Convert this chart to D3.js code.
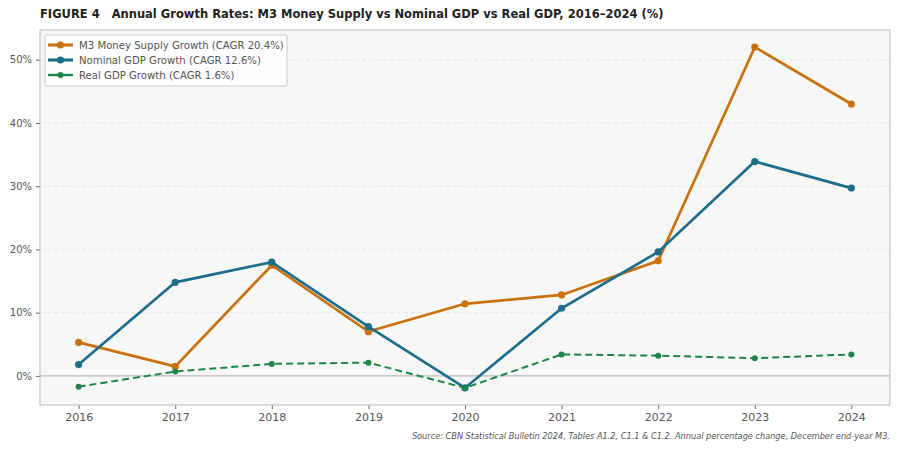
<!DOCTYPE html>
<html>
<head>
<meta charset="utf-8">
<script src="https://cdn.jsdelivr.net/npm/d3@7"></script>
<style>
  body { margin: 0; background: #fff; }
  svg { font-family: "DejaVu Sans", sans-serif; }
</style>
</head>
<body>
<svg id="chart"></svg>
<script>
// data (annual % change)
const years = [2016, 2017, 2018, 2019, 2020, 2021, 2022, 2023, 2024];
const m3Growth = [5.3, 1.5, 17.5, 7.0, 11.4, 12.8, 18.2, 52.0, 43.0];
const nominalGdp = [1.8, 14.8, 18.0, 7.8, -1.9, 10.7, 19.6, 33.9, 29.7];
const realGdp = [-1.7, 0.7, 1.9, 2.1, -1.9, 3.4, 3.2, 2.8, 3.4];
const seriesNames = ['M3 Money Supply Growth (CAGR 20.4%)', 'Nominal GDP Growth (CAGR 12.6%)', 'Real GDP Growth (CAGR 1.6%)'];
const yTicks = [0, 10, 20, 30, 40, 50];

const W = 900, H = 450;
const margin = {top: 30, right: 10, bottom: 45, left: 40};

const svg = d3.select('#chart').attr('width', W).attr('height', H);

// title
svg.append('text')
  .attr('x', 40).attr('y', 18)
  .attr('font-size', 11.5).attr('font-weight', 'bold').attr('fill', '#222')
  .attr('xml:space', 'preserve')
  .text('FIGURE 4   Annual Growth Rates: M3 Money Supply vs Nominal GDP vs Real GDP, 2016\u20132024 (%)');

const width = W - margin.left - margin.right;
const height = H - margin.top - margin.bottom;

const chart = svg.append('g').attr('transform', `translate(${margin.left},${margin.top})`);

const x = d3.scaleLinear().domain([2015.6, 2024.4]).range([0, width]);
const y = d3.scaleLinear().domain([-4.6, 54.7]).range([height, 0]);

// plot background
chart.append('rect')
  .attr('width', width).attr('height', height)
  .attr('fill', '#f7f7f7');

// gridlines
chart.selectAll('.grid')
  .data(yTicks.filter(d => d !== 0))
  .join('line')
  .attr('class', 'grid')
  .attr('x1', 0).attr('x2', width)
  .attr('y1', d => y(d)).attr('y2', d => y(d))
  .attr('stroke', '#e2e2e2').attr('stroke-width', 0.8)
  .attr('stroke-dasharray', '4,3');

// zero line
chart.append('line')
  .attr('x1', 0).attr('x2', width)
  .attr('y1', y(0)).attr('y2', y(0))
  .attr('stroke', '#aaa').attr('stroke-width', 1);

// axes
const xAxis = d3.axisBottom(x).tickValues(years).tickFormat(d3.format('d')).tickSize(4).tickPadding(4);
const yAxis = d3.axisLeft(y).tickValues(yTicks).tickFormat(d => d + '%').tickSize(4).tickPadding(4);

const xg = chart.append('g').attr('transform', `translate(0,${height})`).call(xAxis);
const yg = chart.append('g').call(yAxis);
[xg, yg].forEach(g => {
  g.select('.domain').remove();
  g.selectAll('line').attr('stroke', '#666');
  g.selectAll('text').attr('fill', '#555').attr('font-family', '"DejaVu Sans", sans-serif');
});
xg.selectAll('text').attr('font-size', 11);
yg.selectAll('text').attr('font-size', 10);

// frame
chart.append('rect')
  .attr('width', width).attr('height', height)
  .attr('fill', 'none').attr('stroke', '#bbb').attr('stroke-width', 1);

const series = [
  {name: seriesNames[0], values: m3Growth, color: '#c8720f', width: 2.7, dash: null, r: 3.6},
  {name: seriesNames[1], values: nominalGdp, color: '#1d6d8b', width: 2.7, dash: null, r: 3.6},
  {name: seriesNames[2], values: realGdp, color: '#1e8449', width: 2, dash: '7,4', r: 3}
];

const line = d3.line().x((d, i) => x(years[i])).y(d => y(d));

series.forEach(s => {
  chart.append('path')
    .datum(s.values)
    .attr('fill', 'none')
    .attr('stroke', s.color)
    .attr('stroke-width', s.width)
    .attr('stroke-dasharray', s.dash)
    .attr('d', line);
  chart.selectAll(null)
    .data(s.values)
    .join('circle')
    .attr('cx', (d, i) => x(years[i]))
    .attr('cy', d => y(d))
    .attr('r', s.r)
    .attr('fill', s.color);
});

// legend
const legend = svg.append('g').attr('transform', 'translate(45,35)');
legend.append('rect')
  .attr('width', 242).attr('height', 51).attr('rx', 2)
  .attr('fill', '#fff').attr('fill-opacity', 0.85)
  .attr('stroke', '#ccc');
series.forEach((s, i) => {
  const ly = 10 + i * 15;
  legend.append('line')
    .attr('x1', 3).attr('x2', 28).attr('y1', ly).attr('y2', ly)
    .attr('stroke', s.color).attr('stroke-width', s.width + 0.4);
  legend.append('circle').attr('cx', 15.5).attr('cy', ly).attr('r', s.r).attr('fill', s.color);
  legend.append('text')
    .attr('x', 34).attr('y', ly + 4)
    .attr('font-size', 10.15).attr('fill', '#555')
    .text(s.name);
});

// source note
svg.append('text')
  .attr('x', 890).attr('y', 439)
  .attr('text-anchor', 'end')
  .attr('font-size', 8.2).attr('font-style', 'italic').attr('fill', '#555')
  .text('Source: CBN Statistical Bulletin 2024, Tables A1.2, C1.1 & C1.2. Annual percentage change, December end-year M3.');
</script>
</body>
</html>
